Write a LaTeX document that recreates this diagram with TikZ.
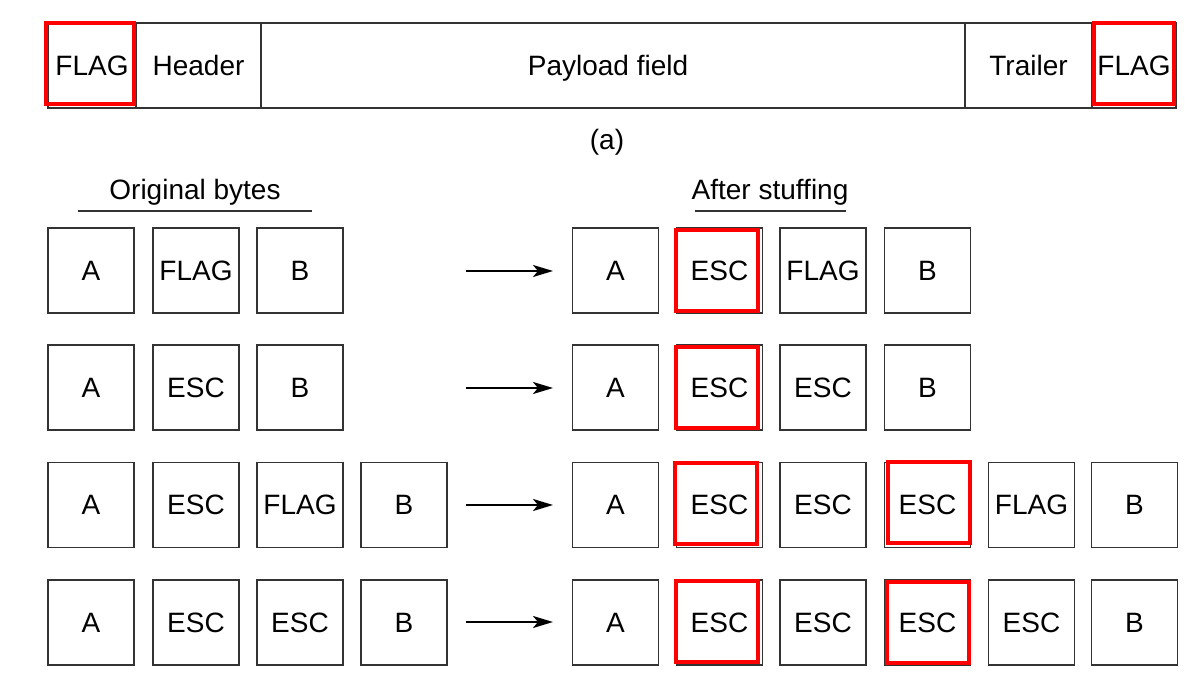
\documentclass[tikz,border=0pt]{standalone}
\usepackage{fontspec}
\setmainfont{Liberation Sans}
\usetikzlibrary{arrows.meta}
\tikzset{
  txt/.style={font=\fontsize{14}{16}\selectfont, inner sep=0pt, text height=10pt, text depth=0pt},
  byte/.style={draw=black!80, line width=0.75pt, minimum width=43pt, minimum height=42.5pt, inner sep=0pt, txt},
  cell/.style={draw=black!80, line width=0.75pt, minimum height=42.5pt, inner sep=0pt, txt},
  redframe/.style={draw=red, line width=2pt, minimum width=#1, minimum height=40.5pt, inner sep=0pt},
  redframe/.default=41pt,
  conn/.style={line width=1.2pt, -{Stealth[length=10pt,width=6pt,inset=2.5pt]}},
  rule/.style={line width=0.75pt, black!80}
}
\begin{document}
\begin{tikzpicture}[x=0.5pt,y=-0.5pt]
\useasboundingbox[fill=white] (0,0) rectangle (1201,694);
% top frame (a)
\node[cell, minimum width=44pt]  (f1) at (92,65.5) {FLAG};
\node[cell, minimum width=62.5pt] (hd) at (198.5,65.5) {Header};
\node[cell, minimum width=352pt] (pl) at (613,65.5) {};
\node[txt] (plt) at (608,66) {Payload field};
\node[cell, minimum width=63.5pt] (tr) at (1028.5,65.5) {Trailer};
\node[cell, minimum width=42pt] (f2) at (1134,65.5) {FLAG};
\node[redframe=44pt] (rf1) at (90,63.5) {};
\node[redframe=40pt] (rf2) at (1134,63.5) {};
\node[txt] (cap) at (607,140) {(a)};
% headings
\node[txt] (ob) at (195,190) {Original bytes};
\node[txt] (as) at (770,190) {After stuffing};
\coordinate (ob1) at (78,211); \coordinate (ob2) at (312,211);
\coordinate (as1) at (695,211); \coordinate (as2) at (846,211);
\draw[rule] (ob1) -- (ob2);
\draw[rule] (as1) -- (as2);
% row 1
\node[byte] (a11) at (91,270.5) {A};
\node[byte] (a12) at (196,270.5) {FLAG};
\node[byte] (a13) at (300,270.5) {B};
\node[byte] (b11) at (615.5,270.5) {A};
\node[byte] (b12) at (719.5,270.5) {ESC};
\node[byte] (b13) at (823,270.5) {FLAG};
\node[byte] (b14) at (927.5,270.5) {B};
% row 2
\node[byte] (a21) at (91,387.5) {A};
\node[byte] (a22) at (196,387.5) {ESC};
\node[byte] (a23) at (300,387.5) {B};
\node[byte] (b21) at (615.5,387.5) {A};
\node[byte] (b22) at (719.5,387.5) {ESC};
\node[byte] (b23) at (823,387.5) {ESC};
\node[byte] (b24) at (927.5,387.5) {B};
% row 3
\node[byte] (a31) at (91,505) {A};
\node[byte] (a32) at (196,505) {ESC};
\node[byte] (a33) at (300,505) {FLAG};
\node[byte] (a34) at (404,505) {B};
\node[byte] (b31) at (615.5,505) {A};
\node[byte] (b32) at (719.5,505) {ESC};
\node[byte] (b33) at (823,505) {ESC};
\node[byte] (b34) at (927.5,505) {ESC};
\node[byte] (b35) at (1031.5,505) {FLAG};
\node[byte] (b36) at (1134.5,505) {B};
% row 4
\node[byte] (a41) at (91,622.5) {A};
\node[byte] (a42) at (196,622.5) {ESC};
\node[byte] (a43) at (300,622.5) {ESC};
\node[byte] (a44) at (404,622.5) {B};
\node[byte] (b41) at (615.5,622.5) {A};
\node[byte] (b42) at (719.5,622.5) {ESC};
\node[byte] (b43) at (823,622.5) {ESC};
\node[byte] (b44) at (927.5,622.5) {ESC};
\node[byte] (b45) at (1031.5,622.5) {ESC};
\node[byte] (b46) at (1134.5,622.5) {B};
% red frames
\node[redframe] (r1) at (717,271) {};
\node[redframe] (r2) at (717,388) {};
\node[redframe] (r3) at (716,504) {};
\node[redframe] (r4) at (929,503) {};
\node[redframe] (r5) at (717,622) {};
\node[redframe] (r6) at (927.5,622.5) {};
% arrows
\foreach \i/\y in {1/271,2/388,3/505,4/622}{
  \coordinate (s\i) at (466,\y);
  \coordinate (e\i) at (553,\y);
  \draw[conn] (s\i) -- (e\i);
}
\end{tikzpicture}
\end{document}
